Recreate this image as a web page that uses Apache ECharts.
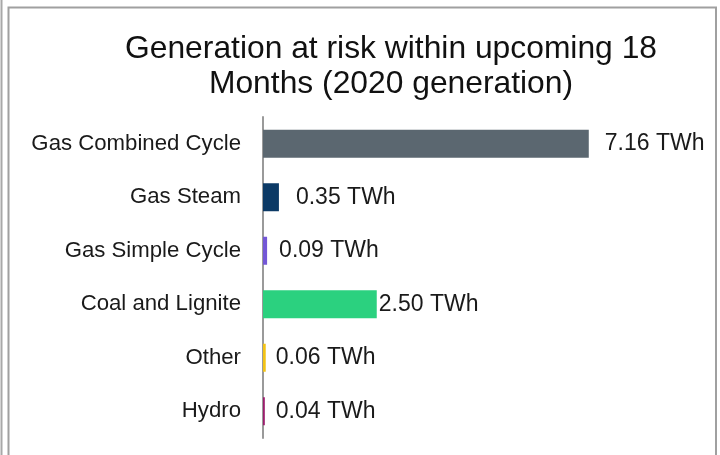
<!DOCTYPE html>
<html>
<head>
<meta charset="utf-8">
<script src="https://cdn.jsdelivr.net/npm/echarts@6/dist/echarts.min.js"></script>
<style>
html,body{margin:0;padding:0;background:#fff;}
#chart{width:720px;height:455px;}
</style>
</head>
<body>
<div id="chart"></div>
<script>
const titleText = 'Generation at risk within upcoming 18\nMonths (2020 generation)';
const categories = ['Gas Combined Cycle', 'Gas Steam', 'Gas Simple Cycle', 'Coal and Lignite', 'Other', 'Hydro'];
const values = [7.16, 0.35, 0.09, 2.50, 0.06, 0.04];
const unit = 'TWh';

const barColors = ['#5b6770', '#0c3a66', '#7357d6', '#2bd17f', '#f3c316', '#9b1d6c'];
const labelGaps = [16, 17, 12, 2, 10, 11];

const chart = echarts.init(document.getElementById('chart'), null, {renderer: 'canvas'});
const font = '"Liberation Sans", Arial, sans-serif';

chart.setOption({
  animation: false,
  backgroundColor: '#ffffff',
  title: {
    text: titleText,
    left: 386,
    top: 27,
    textAlign: 'center',
    textStyle: {
      fontFamily: font,
      fontSize: 31.8,
      fontWeight: 'normal',
      color: '#111',
      lineHeight: 35
    }
  },
  graphic: [
    {type: 'line', shape: {x1: 1.5, y1: 0, x2: 1.5, y2: 455}, style: {stroke: '#a8a8a8', lineWidth: 2}},
    {type: 'polyline', shape: {points: [[8.5, 460], [8.5, 7.5], [716, 7.5], [716, 460]]}, style: {stroke: '#a0a0a0', lineWidth: 2, fill: null}}
  ],
  grid: {left: 263, top: 117, width: 364, height: 321, containLabel: false},
  xAxis: {
    type: 'value',
    min: 0,
    max: 8,
    show: false
  },
  yAxis: {
    type: 'category',
    data: categories,
    inverse: true,
    axisLine: {show: true, lineStyle: {color: '#9a9a9a', width: 2}},
    axisTick: {show: false},
    axisLabel: {
      margin: 22,
      fontFamily: font,
      fontSize: 22.2,
      color: '#1a1a1a'
    }
  },
  series: [{
    type: 'bar',
    barWidth: 28,
    data: values.map((v, i) => ({
      value: v,
      itemStyle: {color: barColors[i]},
      label: {distance: labelGaps[i]}
    })),
    label: {
      show: true,
      position: 'right',
      fontFamily: font,
      fontSize: 23,
      color: '#1a1a1a',
      formatter: p => p.value.toFixed(2) + ' ' + unit
    }
  }]
});
</script>
</body>
</html>
